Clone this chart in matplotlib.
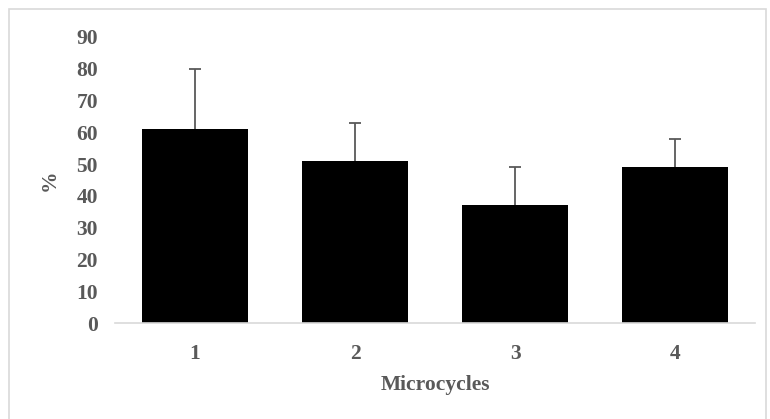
import matplotlib.pyplot as plt
from matplotlib.patches import Rectangle

# data
microcycles = ['1', '2', '3', '4']
percent = [61, 51, 37, 49]
err_up = [19, 12, 12, 9]
y_ticks = [0, 10, 20, 30, 40, 50, 60, 70, 80, 90]

plt.rcParams['font.family'] = ['Liberation Serif', 'DejaVu Serif']
grey = '#595959'
fs = 15.5

fig = plt.figure(figsize=(7.7, 4.19), dpi=100)
ax = fig.add_axes([0.149, 0.229, 0.832, 0.683])

x = range(len(microcycles))
ax.bar(x, percent, width=0.66, color='black', zorder=2)
_, caps, _ = ax.errorbar(x, percent, yerr=[[0] * len(err_up), err_up], fmt='none',
                         ecolor=grey, elinewidth=1.3, capsize=4.5, capthick=1.3, zorder=3)
caps[0].set_visible(False)  # only the upper whisker

ax.set_xlim(-0.5, len(microcycles) - 0.5)
ax.set_ylim(0, 90)
ax.set_xticks(list(x))
ax.set_xticklabels(microcycles)
ax.set_yticks(y_ticks)

for s in ['top', 'right', 'left']:
    ax.spines[s].set_visible(False)
ax.spines['bottom'].set_color('#d9d9d9')
ax.spines['bottom'].set_linewidth(1.2)
ax.tick_params(length=0, labelsize=fs, colors=grey)
ax.tick_params(axis='y', pad=12)
ax.tick_params(axis='x', pad=15)
for lbl in ax.get_xticklabels() + ax.get_yticklabels():
    lbl.set_fontweight('bold')

ax.set_xlabel('Microcycles', fontsize=fs, fontweight='bold', color=grey, labelpad=8)
ax.set_ylabel('%', fontsize=fs, fontweight='bold', color=grey, labelpad=12)

# light border round the chart area
fig.patches.append(Rectangle((9 / 770, -0.01), 757 / 770, 1 - 9 / 419 + 0.01,
                             transform=fig.transFigure, fill=False,
                             edgecolor='#d9d9d9', linewidth=1.2))

fig.savefig('out.png', dpi=100)
